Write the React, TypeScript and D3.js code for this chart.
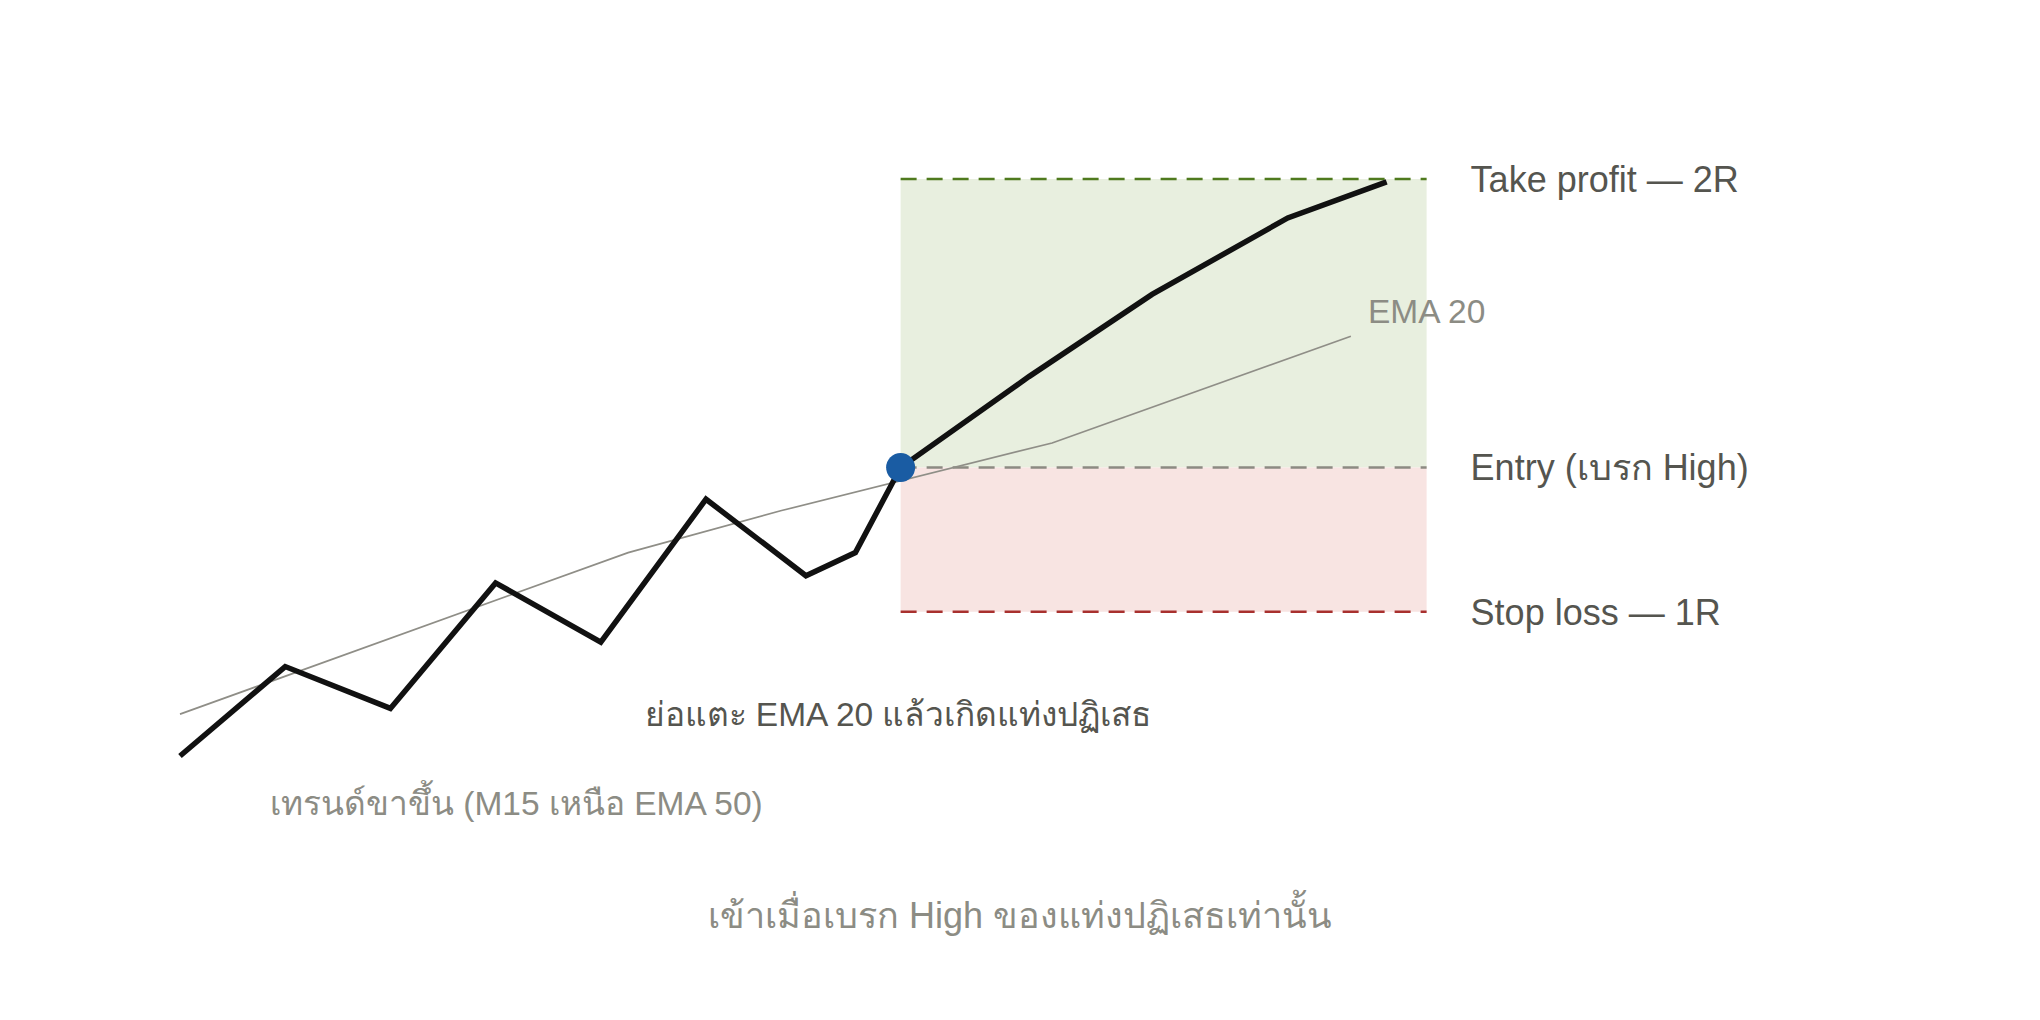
import React, { useEffect } from "react";
import * as d3 from "d3";

// Price path (x in bar units, y in price units; entry = 100, R = 1)
const priceX = [0, 1, 2, 3, 4, 5, 5.95, 6.42, 6.85, 8.07, 9.24, 10.53, 11.47];
const priceY = [98.0, 98.62, 98.33, 99.2, 98.79, 99.78, 99.25, 99.41, 100.0, 100.63, 101.2, 101.73, 101.98];

// EMA 20
const emaX = [0, 4.26, 5.71, 8.29, 11.13];
const emaY = [98.29, 99.41, 99.7, 100.17, 100.91];

// Trade levels
const entryPrice = 100;
const stopPrice = 99;
const targetPrice = 102;
const entryBar = 6.85;
const zoneEnd = 11.85;

const labels = {
  tp: "Take profit — 2R",
  entry: "Entry (เบรก High)",
  sl: "Stop loss — 1R",
  ema: "EMA 20",
  pullback: "ย่อแตะ EMA 20 แล้วเกิดแท่งปฏิเสธ",
  trend: "เทรนด์ขาขึ้น (M15 เหนือ EMA 50)",
  footer: "เข้าเมื่อเบรก High ของแท่งปฏิเสธเท่านั้น",
};

const W = 2040;
const H = 1020;
const FONT = "'Liberation Sans', Arial, sans-serif";

export default function App() {
  useEffect(() => {
    document.body.style.margin = "0";
  }, []);

  const x = d3.scaleLinear().domain([0, 12]).range([180, 180 + 12 * 105.2]);
  const y = d3.scaleLinear().domain([99, 102]).range([611.75, 179]);

  const line = d3
    .line<[number, number]>()
    .x((d) => x(d[0]))
    .y((d) => y(d[1]));

  const pricePts = priceX.map((v, i) => [v, priceY[i]] as [number, number]);
  const emaPts = emaX.map((v, i) => [v, emaY[i]] as [number, number]);

  const x0 = x(entryBar);
  const x1 = x(zoneEnd);
  const labelX = x(zoneEnd) + 44;

  return (
    <svg width={W} height={H} style={{ display: "block", background: "#fff" }} fontFamily={FONT}>
      {/* zones */}
      <rect x={x0} y={y(targetPrice)} width={x1 - x0} height={y(entryPrice) - y(targetPrice)} fill="#e8efdf" />
      <rect x={x0} y={y(entryPrice)} width={x1 - x0} height={y(stopPrice) - y(entryPrice)} fill="#f8e4e2" />

      {/* level lines */}
      <line x1={x0} x2={x1} y1={y(targetPrice)} y2={y(targetPrice)} stroke="#4f7a1e" strokeWidth={2.5} strokeDasharray="16 10" />
      <line x1={x0} x2={x1} y1={y(entryPrice)} y2={y(entryPrice)} stroke="#8c8a82" strokeWidth={2.5} strokeDasharray="16 10" />
      <line x1={x0} x2={x1} y1={y(stopPrice)} y2={y(stopPrice)} stroke="#a8302e" strokeWidth={2.5} strokeDasharray="16 10" />

      {/* EMA */}
      <path d={line(emaPts) || ""} fill="none" stroke="#8f8e87" strokeWidth={1.7} />

      {/* price */}
      <path d={line(pricePts) || ""} fill="none" stroke="#111" strokeWidth={5.5} strokeLinejoin="miter" />

      {/* entry dot */}
      <circle cx={x(entryBar)} cy={y(entryPrice)} r={14.5} fill="#1a5ca3" />

      {/* level labels */}
      <text x={labelX} y={y(targetPrice)} dy="0.36em" fontSize={36} fill="#55554f">{labels.tp}</text>
      <text x={labelX} y={y(entryPrice)} dy="0.36em" fontSize={36} fill="#55554f">{labels.entry}</text>
      <text x={labelX} y={y(stopPrice)} dy="0.36em" fontSize={36} fill="#55554f">{labels.sl}</text>

      <text x={1368} y={323} fontSize={33.5} fill="#8c8c84">{labels.ema}</text>

      <text x={898} y={725.5} textAnchor="middle" fontSize={33.5} fill="#55554f">{labels.pullback}</text>
      <text x={270} y={815} fontSize={33.5} fill="#8c8c84">{labels.trend}</text>
      <text x={W / 2} y={928} textAnchor="middle" fontSize={36} fill="#8c8c84">{labels.footer}</text>
    </svg>
  );
}
